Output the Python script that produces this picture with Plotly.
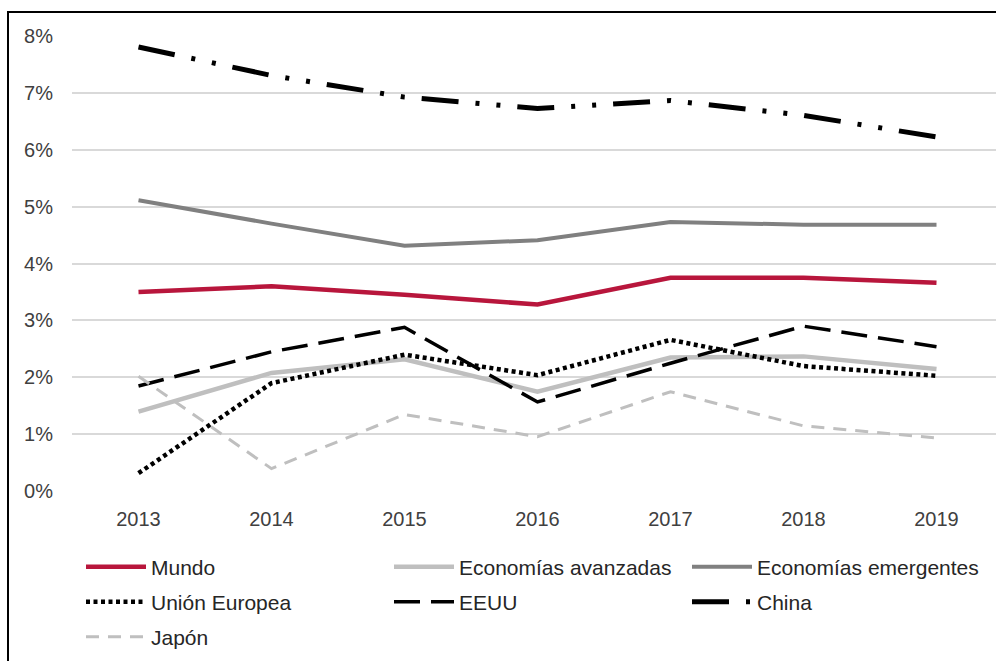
import plotly.graph_objects as go

# Crecimiento del PIB real (%)
years = ["2013", "2014", "2015", "2016", "2017", "2018", "2019"]

mundo = [3.50, 3.60, 3.45, 3.28, 3.75, 3.75, 3.66]
avanzadas = [1.40, 2.08, 2.32, 1.75, 2.35, 2.37, 2.15]
emergentes = [5.11, 4.70, 4.31, 4.41, 4.73, 4.68, 4.68]
union_europea = [0.32, 1.90, 2.40, 2.04, 2.66, 2.20, 2.03]
eeuu = [1.85, 2.45, 2.88, 1.57, 2.25, 2.90, 2.54]
china = [7.80, 7.30, 6.92, 6.72, 6.86, 6.60, 6.22]
japon = [2.02, 0.40, 1.35, 0.96, 1.75, 1.15, 0.94]

y_ticks = [0, 1, 2, 3, 4, 5, 6, 7, 8]
y_tick_labels = ["0%", "1%", "2%", "3%", "4%", "5%", "6%", "7%", "8%"]

FONT = "Liberation Sans, Arial, sans-serif"

series = [
    ("Mundo", mundo, "#B8163C", 4.5, "solid"),
    ("Economías avanzadas", avanzadas, "#BFBFBF", 4.5, "solid"),
    ("Economías emergentes", emergentes, "#808080", 4, "solid"),
    ("Unión Europea", union_europea, "#000000", 4.5, "4px,3.5px"),
    ("EEUU", eeuu, "#000000", 3.5, "26px,11px"),
    ("China", china, "#000000", 5, "37px,17px,4px,17px,4px,17px"),
    ("Japón", japon, "#BFBFBF", 3, "13px,9px"),
]

W, H = 996, 661
ML, MR, MT, MB = 72, 0, 35, 169
plot_w = W - ML - MR
plot_h = H - MT - MB


def px_x(px):
    return (px - ML) / plot_w


def px_y(py):
    return (H - MB - py) / plot_h


# legend grid: three columns, three rows below the plot
col_px = [81, 389, 687]
row_px = [567, 602, 637]

legend_common = dict(
    orientation="h",
    xanchor="left",
    yanchor="middle",
    itemwidth=60,
    bgcolor="rgba(0,0,0,0)",
    font=dict(family=FONT, size=21, color="#262626"),
)

fig = go.Figure()
legend_layout = {}
for i, (name, values, color, width, dash) in enumerate(series):
    key = "legend" if i == 0 else f"legend{i + 1}"
    fig.add_trace(go.Scatter(
        x=years, y=values, name=name, mode="lines",
        line=dict(color=color, width=width, dash=dash),
        legend=key,
    ))
    legend_layout[key] = dict(
        legend_common,
        x=px_x(col_px[i % 3]),
        y=px_y(row_px[i // 3]),
    )

fig.update_layout(
    width=W,
    height=H,
    margin=dict(l=ML, r=MR, t=MT, b=MB),
    paper_bgcolor="white",
    plot_bgcolor="white",
    font=dict(family=FONT, size=20, color="#404040"),
    xaxis=dict(
        type="category",
        range=[-0.5, -0.5 + plot_w / 133.0],
        showgrid=False,
        zeroline=False,
        showline=False,
        ticks="",
        ticklabelstandoff=13,
        tickfont=dict(family=FONT, size=20, color="#404040"),
    ),
    yaxis=dict(
        range=[-0.01, 8.01],
        tickvals=y_ticks,
        ticktext=y_tick_labels,
        showgrid=True,
        gridcolor="#D9D9D9",
        gridwidth=1.5,
        zeroline=False,
        showline=False,
        ticks="",
        ticklabelstandoff=18,
        tickfont=dict(family=FONT, size=20, color="#404040"),
    ),
    showlegend=True,
    **legend_layout,
)

# outer frame of the chart
fig.add_shape(
    type="rect", xref="paper", yref="paper",
    x0=px_x(8), x1=px_x(1010), y0=px_y(680), y1=px_y(12),
    line=dict(color="#000000", width=2),
    fillcolor="rgba(0,0,0,0)",
    layer="above",
)

fig.write_html("out.html")
